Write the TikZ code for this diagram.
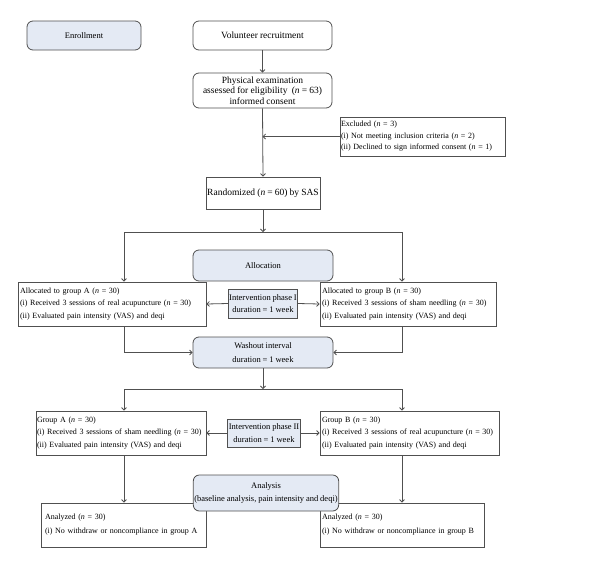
\documentclass[tikz,border=0pt]{standalone}
\usepackage{fontspec}
\setmainfont{Liberation Serif}[WordSpace=0.9]
\usetikzlibrary{arrows.meta}
\definecolor{boxblue}{RGB}{228,234,244}
\definecolor{linegray}{RGB}{80,80,80}
\newcommand{\nval}[1]{(\textit{n} = #1)}
\tikzset{
  every node/.style={font=\fontsize{8.5}{12.5}\selectfont},
  bigtext/.style={font=\fontsize{9.5}{10.5}\selectfont},
  rbox/.style={draw=linegray, rounded corners=6pt, align=center, inner sep=1pt},
  sbox/.style={draw=linegray, align=center, inner sep=1pt},
  lbox/.style={draw=linegray, align=left, inner xsep=2pt, inner ysep=1pt, minimum height=44pt,
    font=\fontsize{8}{12.5}\selectfont},
  bluefill/.style={fill=boxblue},
}
\begin{document}
\begin{tikzpicture}[x=1pt,y=-1pt,>={Straight Barb[length=2.5pt,width=5pt]},line width=0.8pt,draw=linegray]
\useasboundingbox (0,0) rectangle (600,568);
% enrollment
\node[rbox,bluefill,minimum width=114pt,minimum height=29pt] (enroll) at (84,35.5) {Enrollment};
\node[rbox,bigtext,minimum width=139pt,minimum height=29pt] (volunteer) at (262.5,35.5) {Volunteer recruitment};
\node[rbox,bigtext,minimum width=139pt,minimum height=35pt] (physical) at (262.5,90.5) {Physical examination\\assessed for eligibility~ \nval{63}\\informed consent};
\node[lbox,font=\fontsize{8}{11.5}\selectfont,inner xsep=1pt,text width=163pt,minimum height=39pt] (excluded) at (422.5,136.5) {Excluded \nval{3}\\(i) Not meeting inclusion criteria \nval{2}\\(ii) Declined to sign informed consent \nval{1}};
\node[sbox,bigtext,minimum width=114pt,minimum height=32pt] (random) at (263,193) {Randomized \nval{60} by SAS};
\draw[->] (volunteer.south) -- (physical.north);
\draw[->] (physical.south) -- (random.north);
\draw[->] (excluded.west) -- (excluded.west -| physical.south);

% phase I
\coordinate (colA) at (124,0);
\coordinate (colB) at (402,0);
\coordinate (split1) at (263,232);
\node[rbox,bluefill,minimum width=140pt,minimum height=31pt] (alloc) at (263,265.5) {Allocation};
\node[lbox,text width=184pt] (allocA) at (112,304) {Allocated to group A \nval{30}\\(i) Received 3 sessions of real acupuncture \nval{30}\\(ii) Evaluated pain intensity (VAS) and deqi};
\node[lbox,text width=172pt] (allocB) at (408,304) {Allocated to group B \nval{30}\\(i) Received 3 sessions of sham needling \nval{30}\\(ii) Evaluated pain intensity (VAS) and deqi};
\node[sbox,bluefill,minimum width=68pt,minimum height=29pt] (phaseI) at (263,303.5) {Intervention phase I\\duration = 1 week};
\node[rbox,bluefill,minimum width=140pt,minimum height=31pt] (washout) at (263,352.5) {Washout interval\\[2pt]duration = 1 week};
\draw[->] (random.south) -- (split1);
\draw[->] (split1) -| (colA |- allocA.north);
\draw[->] (split1) -| (colB |- allocB.north);
\draw[->] (phaseI.west) -- (allocA.east);
\draw[->] (phaseI.east) -- (allocB.west);
\draw[->] (colA |- allocA.south) |- (washout.west);
\draw[->] (colB |- allocB.south) |- (washout.east);

% phase II
\coordinate (split2) at (263,389);
\node[lbox,inner xsep=1pt,text width=168pt] (groupA) at (121,433) {Group A \nval{30}\\(i) Received 3 sessions of sham needling \nval{30}\\(ii) Evaluated pain intensity (VAS) and deqi};
\node[lbox,text width=175pt] (groupB) at (409.5,433) {Group B \nval{30}\\(i) Received 3 sessions of real acupuncture \nval{30}\\(ii) Evaluated pain intensity (VAS) and deqi};
\node[sbox,bluefill,minimum width=72pt,minimum height=28pt] (phaseII) at (264,433) {Intervention phase II\\duration = 1 week};
\draw[->] (washout.south) -- (split2);
\draw[->] (split2) -| (colA |- groupA.north);
\draw[->] (split2) -| (colB |- groupB.north);
\draw[->] (phaseII.west) -- (groupA.east);
\draw[->] (phaseII.east) -- (groupB.west);

% analysis
\node[lbox,font=\fontsize{8}{14}\selectfont,inner xsep=4pt,text width=157pt] (analyzedA) at (123.5,525) {Analyzed \nval{30}\\(i) No withdraw or noncompliance in group A};
\node[lbox,font=\fontsize{8}{14}\selectfont,text width=160pt] (analyzedB) at (402,525) {Analyzed \nval{30}\\(i) No withdraw or noncompliance in group B};
\node[rbox,bluefill,minimum width=144pt,minimum height=36pt] (analysis) at (266,493) {Analysis\\(baseline analysis, pain intensity and deqi)};
\draw[->] (colA |- groupA.south) -- (colA |- analyzedA.north);
\draw[->] (colB |- groupB.south) -- (colB |- analyzedB.north);
\end{tikzpicture}
\end{document}
